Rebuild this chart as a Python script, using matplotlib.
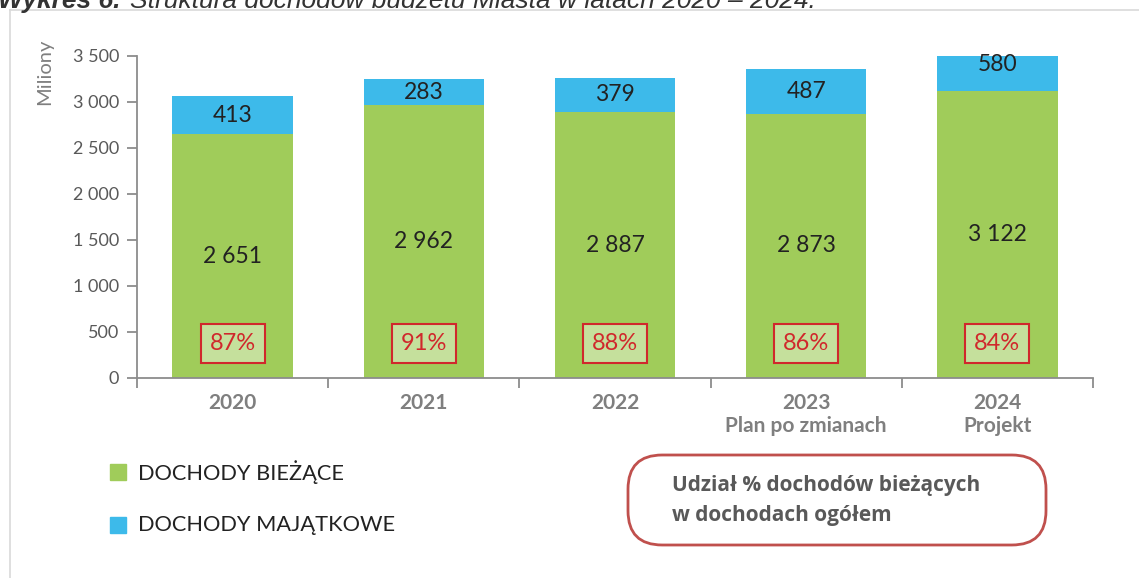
import matplotlib
matplotlib.use('Agg')
import matplotlib.pyplot as plt
from matplotlib.patches import Rectangle, FancyBboxPatch
from matplotlib.ticker import FuncFormatter
import numpy as np

# data
years = ['2020', '2021', '2022', '2023\nPlan po zmianach', '2024\nProjekt']
biezace = [2651, 2962, 2887, 2873, 3122]
majatkowe = [413, 283, 379, 487, 580]
udzial = ['87%', '91%', '88%', '86%', '84%']
series_names = ['DOCHODY BIEŻĄCE', 'DOCHODY MAJĄTKOWE']
colors = ['#A0CC5A', '#3DBAEA']

W, H = 1139, 578
fig = plt.figure(figsize=(W / 100, H / 100), dpi=100)
plt.rcParams['font.family'] = ['Lato', 'DejaVu Sans']

def fx(px):
    return px / W

def fy(py):
    return 1 - py / H

# light frame round the chart
fig.add_artist(plt.Line2D([fx(10), fx(10)], [fy(10), 0], color='#D9D9D9', lw=1.2))
fig.add_artist(plt.Line2D([fx(10), 1], [fy(10), fy(10)], color='#D9D9D9', lw=1.2))

# title, cut off at the very top like in the scan
t1 = fig.text(fx(-2), fy(8), 'Wykres 6.', family='Liberation Sans', fontsize=19,
              fontweight='bold', style='italic', color='#333333', va='baseline')
r = fig.canvas.get_renderer()
x_end = t1.get_window_extent(r).x1
fig.text(x_end / W + fx(9), fy(8), 'Struktura dochodów budżetu Miasta w latach 2020 – 2024.',
         family='Liberation Sans', fontsize=19, style='italic', color='#333333', va='baseline')

ax = fig.add_axes([fx(137), fy(378), fx(1093) - fx(137), fy(56) - fy(378)])
x = np.arange(len(years))
w = 0.63
ax.bar(x, biezace, w, color=colors[0], zorder=2)
ax.bar(x, majatkowe, w, bottom=biezace, color=colors[1], zorder=2)

for i in range(len(x)):
    ax.text(x[i], biezace[i] / 2, f'{biezace[i]:,}'.replace(',', ' '),
            ha='center', va='center', fontsize=16.5, color='#222222', zorder=3)
    ax.text(x[i], biezace[i] + majatkowe[i] / 2, str(majatkowe[i]),
            ha='center', va='center', fontsize=16.5, color='#222222', zorder=3)
    ax.text(x[i], 370, udzial[i], ha='center', va='center', fontsize=17, color='#D0282C',
            zorder=3, bbox=dict(boxstyle='square,pad=0.38', fc='#C5E09C', ec='#D0282C', lw=1.5))

ax.set_xlim(-0.5, len(x) - 0.5)
ax.set_ylim(0, 3500)
ax.set_yticks(np.arange(0, 3501, 500))
ax.yaxis.set_major_formatter(FuncFormatter(lambda v, p: f'{int(v):,}'.replace(',', ' ')))
ax.set_xticks(x)
ax.set_xticklabels(years, fontsize=15, fontweight='bold', color='#7F7F7F', linespacing=1.2)
ax.set_xticks(np.arange(-0.5, len(x)), minor=True)
ax.tick_params(axis='x', which='major', length=0, pad=11)
ax.tick_params(axis='x', which='minor', length=7, width=1.3, color='#8C8C8C')
ax.tick_params(axis='y', length=7, width=1.3, color='#8C8C8C', labelsize=13,
               labelcolor='#595959', pad=6)
for s in ['top', 'right']:
    ax.spines[s].set_visible(False)
for s in ['left', 'bottom']:
    ax.spines[s].set_color('#8C8C8C')
    ax.spines[s].set_linewidth(1.3)

fig.text(fx(45), fy(72), 'Miliony', rotation=90, ha='center', va='center',
         fontsize=14.5, color='#7F7F7F')

# legend drawn by hand
for k, (name, col) in enumerate(zip(series_names, colors)):
    yc = 472 + k * 53
    fig.add_artist(Rectangle((fx(110), fy(yc + 8)), fx(16), fy(yc - 8) - fy(yc + 8),
                             transform=fig.transFigure, color=col))
    fig.text(fx(138), fy(yc), name, fontsize=15.7, color='#222222', va='center')

# rounded note box
fig.add_artist(FancyBboxPatch((fx(628), fy(545)), fx(1046) - fx(628), fy(455) - fy(545),
                              boxstyle='round,pad=0,rounding_size=0.03',
                              transform=fig.transFigure, fc='white', ec='#C0504D', lw=2,
                              mutation_aspect=W / H))
fig.text(fx(672), fy(485), 'Udział % dochodów bieżących', family='Open Sans',
         fontweight='bold', fontsize=15, color='#595959', va='center')
fig.text(fx(672), fy(515), 'w dochodach ogółem', family='Open Sans',
         fontweight='bold', fontsize=15, color='#595959', va='center')

fig.savefig('out.png', dpi=100)
